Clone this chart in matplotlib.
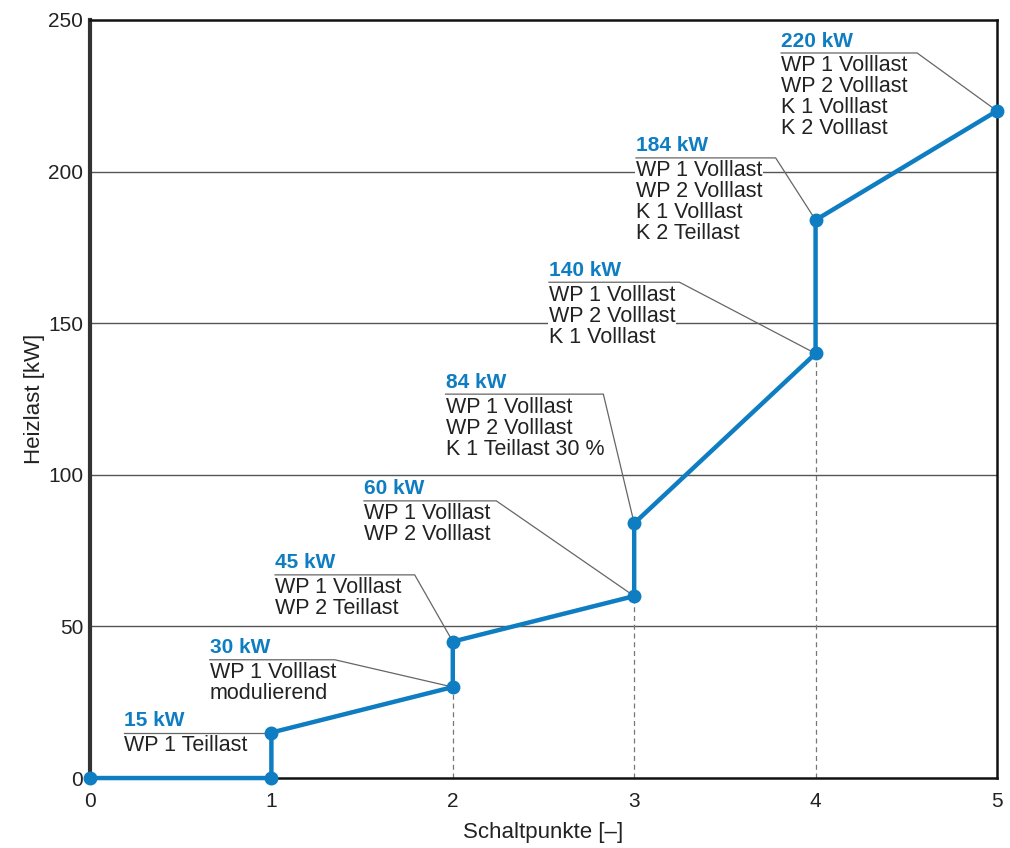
import numpy as np
import matplotlib.pyplot as plt

plt.rcParams['font.family'] = ['Liberation Sans', 'DejaVu Sans']

# Schaltpunkte und Heizlast
x_pts = [0, 1, 1, 2, 2, 3, 3, 4, 4, 5]
y_pts = [0, 0, 15, 30, 45, 60, 84, 140, 184, 220]

# Beschriftungen: Punkt (x, y), Leistung, Text
lbl_x = [1, 2, 2, 3, 3, 4, 4, 5]
lbl_y = [15, 30, 45, 60, 84, 140, 184, 220]
lbl_val = ['15 kW', '30 kW', '45 kW', '60 kW', '84 kW', '140 kW', '184 kW', '220 kW']
lbl_txt = [
    'WP 1 Teillast',
    'WP 1 Volllast\nmodulierend',
    'WP 1 Volllast\nWP 2 Teillast',
    'WP 1 Volllast\nWP 2 Volllast',
    'WP 1 Volllast\nWP 2 Volllast\nK 1 Teillast 30 %',
    'WP 1 Volllast\nWP 2 Volllast\nK 1 Volllast',
    'WP 1 Volllast\nWP 2 Volllast\nK 1 Volllast\nK 2 Teillast',
    'WP 1 Volllast\nWP 2 Volllast\nK 1 Volllast\nK 2 Volllast',
]
# Lage der Textblöcke (linke Kante, Höhe der Unterstreichung, Knick der Führungslinie)
txt_left = [0.19, 0.66, 1.02, 1.51, 1.96, 2.53, 3.01, 3.81]
txt_line = [15, 39, 67, 91.4, 126.6, 163.5, 204.5, 239.1]
txt_knee = [1.0, 1.35, 1.79, 2.24, 2.83, 3.25, 3.78, 4.56]

blue = '#0e7dc2'

fig = plt.figure(figsize=(10.1, 8.48), dpi=100)
ax = fig.add_axes([0.0891, 0.0825, 0.898, 0.894])
ax.set_xlim(0, 5)
ax.set_ylim(0, 250)

for yv in [50, 100, 150, 200]:
    ax.axhline(yv, color='#555555', lw=1.0, zorder=1)

# gestrichelte Hilfslinien
for xv, yv in [(2, 30), (3, 60), (4, 140)]:
    ax.plot([xv, xv], [0, yv], color='#777777', lw=0.9, ls=(0, (4, 3)), zorder=1)

for i in range(len(lbl_x)):
    x0, yl, xk = txt_left[i], txt_line[i], txt_knee[i]
    ax.plot([x0, xk, lbl_x[i]], [yl, yl, lbl_y[i]], color='#666666', lw=0.9, zorder=4.5)
    ax.text(x0, yl + 0.8, lbl_val[i], color=blue, fontsize=15, fontweight='bold',
            ha='left', va='bottom', zorder=4)
    ax.text(x0, yl - 0.8, lbl_txt[i], color='#222222', fontsize=15.5, ha='left', va='top',
            linespacing=1.0, zorder=4,
            bbox=dict(facecolor='white', edgecolor='none', pad=0.5))

ax.plot(x_pts, y_pts, color=blue, lw=3.2, zorder=5, clip_on=False,
        marker='o', markersize=9, solid_capstyle='butt')

ax.set_xticks(range(6))
ax.set_yticks(range(0, 251, 50))
ax.tick_params(length=0, labelsize=15, colors='#222222', pad=10)
ax.tick_params(axis='y', pad=5)
for s in ['top', 'right', 'bottom']:
    ax.spines[s].set_linewidth(1.8)
    ax.spines[s].set_color('#111111')
ax.spines['left'].set_linewidth(3)
ax.spines['left'].set_color('#333333')
ax.set_xlabel('Schaltpunkte [–]', fontsize=16, color='#222222', labelpad=8)
ax.set_ylabel('Heizlast [kW]', fontsize=16, color='#222222', labelpad=2)

fig.savefig('out.png', dpi=100)
